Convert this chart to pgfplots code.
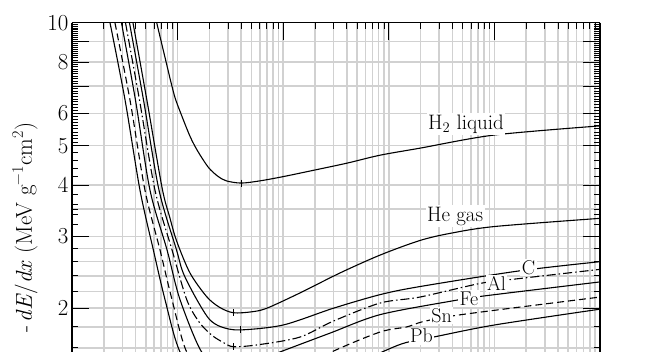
\documentclass[border=0pt]{standalone}
\usepackage{fontspec}
\usepackage{pgfplots}
\pgfplotsset{compat=1.18}
\definecolor{gridgray}{gray}{0.82}
\begin{document}
\begin{tikzpicture}
\begin{axis}[
  scale only axis,
  width=528bp, height=329.3bp,
  xmode=log, ymode=log,
  xmin=0.1, xmax=10000, ymin=1.563, ymax=10,
  axis x line*=top,
  axis y line*=box,
  x axis line style={-}, y axis line style={-},
  axis line style={line width=1.1bp},
  xtick={0.1,1,10,100,1000,10000},
  xticklabels={},
  minor xtick={0.2,0.3,0.4,0.5,0.6,0.7,0.8,0.9,2,3,4,5,6,7,8,9,20,30,40,50,60,70,80,90,200,300,400,500,600,700,800,900,2000,3000,4000,5000,6000,7000,8000,9000},
  xmajorgrids, xminorgrids,
  ytick={2,3,4,5,6,7,8,9,10},
  yticklabels={2,3,4,5,6,,8,,10},
  minor ytick={1.6,1.8,2.2,2.4,2.6,2.8,3.5},
  ymajorgrids, yminorgrids,
  extra y ticks={3.2,3.4,3.6,3.8,4.2,4.4,4.6,4.8,5.1,5.2,5.3,5.4,5.5,5.6,5.7,5.8,5.9,6.1,6.2,6.3,6.4,6.5,6.6,6.7,6.8,6.9,7.1,7.2,7.3,7.4,7.5,7.6,7.7,7.8,7.9,8.1,8.2,8.3,8.4,8.5,8.6,8.7,8.8,8.9,9.1,9.2,9.3,9.4,9.5,9.6,9.7,9.8,9.9},
  extra y tick style={grid=none, major tick length=6bp, yticklabel={}},
  tick align=inside,
  ytick pos=both,
  major tick length=17bp, minor tick length=6bp,
  tick style={black, line width=0.9bp},
  major grid style={gridgray, line width=1.6bp},
  minor grid style={gridgray, line width=1.6bp},
  /pgf/number format/assume math mode=true,
  yticklabel style={font=\fontsize{23}{27}\selectfont},
  clip mode=individual,
]
\coordinate (SW) at (rel axis cs:0,0);
\coordinate (NE) at (rel axis cs:1,1);
% H2 liquid
\addplot[black, line width=1.1bp, smooth] coordinates {
(0.634,10) (0.762,8.2) (0.93,6.65) (1.10,5.9) (1.32,5.25) (1.55,4.85) (1.95,4.43) (2.4,4.21) (2.9,4.1) (4.0,4.05) (6,4.1) (10,4.2) (20,4.36) (40,4.53) (83,4.74) (197,4.93) (1000,5.31) (10000,5.59)};
% He gas
\addplot[black, line width=1.1bp, smooth] coordinates {
(0.378,10) (0.51,6.5) (0.712,3.95) (0.84,3.35) (0.98,2.92) (1.31,2.44) (1.886,2.135) (2.5,2.01) (3.37,1.95) (5,1.96) (6.98,2.0) (14.4,2.18) (34.5,2.44) (83,2.70) (197,2.93) (380,3.05) (1000,3.17) (10000,3.32)};
% C
\addplot[black, line width=1.1bp, smooth] coordinates {
(0.35,10) (0.4755,6.47) (0.667,3.89) (0.976,2.78) (1.13,2.44) (1.52,2.10) (2.0,1.88) (2.6,1.80) (3.9,1.77) (10,1.82) (29.8,2.0) (83,2.16) (197,2.26) (1746,2.47) (10000,2.60)};
% Al
\addplot[black, line width=1.1bp, smooth, dash pattern=on 9bp off 3bp on 1.5bp off 3bp] coordinates {
(0.321,10) (0.4357,6.47) (0.611,3.89) (0.885,2.78) (1.22,2.10) (1.6,1.85) (2.1,1.72) (2.7,1.65) (3.4,1.61) (6,1.63) (14.4,1.70) (29.8,1.86) (83,2.06) (197,2.13) (731,2.30) (1510,2.355) (10000,2.49)};
% Fe
\addplot[black, line width=1.1bp, smooth] coordinates {
(0.294,10) (0.399,6.47) (0.548,3.89) (0.794,2.78) (1.054,2.10) (1.69,1.563) (2.5,1.49) (3.5,1.455) (5,1.47) (9.3,1.563) (27.7,1.738) (83,1.93) (424,2.09) (759,2.14) (10000,2.32)};
% Sn
\addplot[black, line width=1.1bp, smooth, dash pattern=on 7bp off 4bp] coordinates {
(0.255,10) (0.354,6.47) (0.491,3.89) (0.681,2.78) (0.885,2.10) (1.22,1.563) (2,1.35) (3.5,1.27) (10,1.36) (29.8,1.57) (83,1.75) (147.6,1.80) (212,1.855) (490,1.93) (10000,2.13)};
% Pb
\addplot[black, line width=1.1bp, smooth] coordinates {
(0.229,10) (0.318,6.47) (0.4406,3.89) (0.589,2.78) (0.76,2.10) (1.054,1.563) (2,1.2) (3.5,1.122) (10,1.2) (30,1.38) (95,1.58) (147.6,1.65) (264,1.70) (1000,1.82) (10000,1.99)};
% minima markers
\addplot[only marks, mark=|, mark size=3.5bp, mark options={line width=0.9bp}] coordinates {
(4.0,4.05) (3.37,1.95) (3.9,1.77) (3.4,1.61)};
% labels
\node[fill=white, inner sep=1.5bp, font=\fontsize{21}{25}\selectfont] at (axis cs:538,5.65) {H\textsubscript{2} liquid};
\node[fill=white, inner sep=1.5bp, font=\fontsize{21}{25}\selectfont] at (axis cs:424,3.36) {He gas};
\node[fill=white, inner sep=1.5bp, font=\fontsize{20}{24}\selectfont] at (axis cs:2104,2.52) {C};
\node[fill=white, inner sep=1.5bp, font=\fontsize{20}{24}\selectfont] at (axis cs:1047,2.30) {Al};
\node[fill=white, inner sep=1.5bp, font=\fontsize{20}{24}\selectfont] at (axis cs:574,2.11) {Fe};
\node[fill=white, inner sep=1.5bp, font=\fontsize{20}{24}\selectfont] at (axis cs:316,1.92) {Sn};
\node[fill=white, inner sep=1.5bp, font=\fontsize{20}{24}\selectfont] at (axis cs:204,1.71) {Pb};
\node[rotate=90, font=\fontsize{23}{27}\selectfont] at ([xshift=-47bp]axis cs:0.1,3.146) {-\,\textit{dE}/\textit{dx} (MeV g\textsuperscript{−1}cm\textsuperscript{2})};
\end{axis}
\pgfresetboundingbox
\path ([xshift=-72bp]SW) rectangle ([xshift=47bp,yshift=22.7bp]NE);
\end{tikzpicture}
\end{document}
